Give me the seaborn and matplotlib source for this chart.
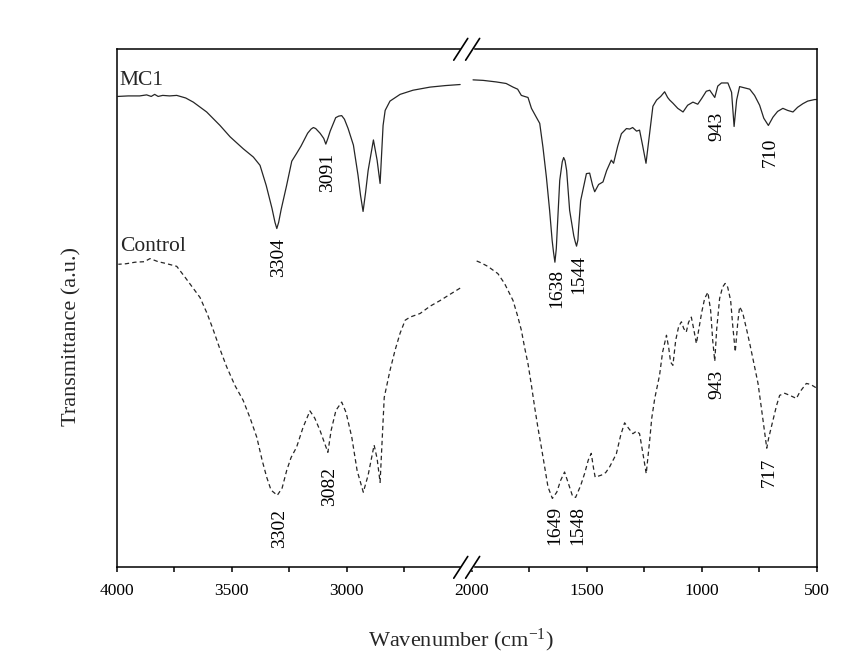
import numpy as np
import pandas as pd
import matplotlib
matplotlib.use("Agg")
import matplotlib.pyplot as plt
import seaborn as sns

# ---- FTIR spectra (wavenumber in cm-1, transmittance in a.u.) ----
# MC1, 4000-2500 cm-1 window
mc1_hi_wn = [3995, 3950, 3900, 3870, 3850, 3835, 3820, 3800, 3770, 3739,
             3700, 3667, 3609, 3551, 3507, 3450, 3406, 3377, 3350, 3325,
             3312, 3304, 3296, 3285, 3262, 3239, 3218, 3199, 3170, 3155,
             3145, 3135, 3116, 3100, 3091, 3082, 3072, 3048, 3035, 3022,
             3010, 2994, 2971, 2951, 2940, 2929, 2918, 2907, 2884, 2868,
             2855, 2842, 2833, 2812, 2768, 2712, 2638, 2570, 2507]
mc1_hi_t = [90.9, 91.0, 91.0, 91.2, 90.9, 91.3, 90.9, 91.1, 91.0, 91.1,
            90.6, 89.8, 87.9, 85.3, 83.1, 80.8, 79.2, 77.6, 73.7, 69.3,
            66.6, 65.4, 66.6, 69.1, 73.6, 78.4, 79.9, 81.3, 83.8, 84.6,
            84.9, 84.7, 83.8, 82.8, 81.7, 82.8, 84.2, 86.8, 87.1, 87.2,
            86.5, 84.7, 81.5, 75.7, 71.8, 68.7, 72.4, 76.6, 82.5, 78.6,
            74.1, 85.3, 88.2, 90.0, 91.3, 92.1, 92.7, 93.0, 93.2]

# MC1, 2000-500 cm-1 window
mc1_lo_wn = [1994, 1950, 1893, 1850, 1820, 1800, 1784, 1770, 1755, 1740,
             1719, 1704, 1690, 1675, 1661, 1650, 1644, 1638, 1632, 1628,
             1617, 1606, 1600, 1594, 1587, 1574, 1556, 1550, 1544, 1538,
             1535, 1526, 1501, 1487, 1474, 1465, 1448, 1429, 1413, 1393,
             1383, 1365, 1349, 1327, 1313, 1300, 1283, 1270, 1257, 1242,
             1230, 1212, 1196, 1178, 1161, 1148, 1139, 1125, 1104, 1081,
             1061, 1038, 1017, 1000, 980, 965, 943, 930, 914, 886,
             870, 859, 848, 835, 791, 770, 748, 730, 710, 690,
             670, 647, 626, 603, 583, 560, 539, 509, 501]
mc1_lo_t = [94.1, 94.0, 93.7, 93.4, 92.7, 92.3, 91.1, 90.9, 90.7, 88.6,
            86.9, 85.7, 81.1, 75.3, 68.9, 63.1, 60.8, 58.9, 61.5, 65.1,
            74.7, 78.3, 79.1, 78.5, 76.6, 68.9, 64.0, 62.9, 62.0, 63.2,
            65.5, 70.8, 76.0, 76.1, 73.7, 72.5, 73.9, 74.4, 76.6, 78.6,
            78.0, 81.3, 83.7, 84.7, 84.6, 84.9, 84.2, 84.4, 81.5, 78.0,
            82.4, 89.0, 90.2, 90.9, 91.8, 90.7, 90.2, 89.6, 88.6, 87.9,
            89.2, 89.8, 89.4, 90.5, 91.9, 92.1, 90.7, 92.9, 93.5, 93.5,
            91.7, 85.1, 90.2, 92.8, 92.3, 91.1, 89.2, 86.7, 85.3, 86.9,
            88.0, 88.6, 88.2, 87.9, 88.8, 89.5, 90.0, 90.3, 90.3]

# Control, 4000-2500 cm-1 window
ctrl_hi_wn = [3993, 3960, 3920, 3880, 3855, 3820, 3790, 3739, 3703, 3668,
              3638, 3607, 3580, 3551, 3522, 3486, 3450, 3420, 3391, 3368,
              3348, 3329, 3302, 3281, 3261, 3242, 3218, 3190, 3160, 3139,
              3116, 3082, 3068, 3047, 3022, 3003, 2978, 2955, 2928, 2907,
              2881, 2868, 2855, 2844, 2837, 2812, 2790, 2768, 2746, 2725,
              2681, 2638, 2594, 2551, 2507]
ctrl_hi_t = [58.5, 58.6, 58.9, 59.0, 59.6, 59.0, 58.7, 58.1, 56.0, 53.9,
             52.1, 49.0, 45.8, 42.1, 38.7, 35.1, 32.2, 28.8, 25.1, 20.7,
             17.4, 14.9, 13.9, 15.3, 18.7, 21.2, 23.2, 27.0, 30.2, 28.8,
             26.4, 22.2, 26.4, 30.3, 31.9, 29.9, 25.1, 18.7, 14.5, 17.8,
             23.6, 21.0, 16.4, 26.4, 32.8, 38.0, 41.9, 45.2, 47.7, 48.3,
             49.0, 50.4, 51.5, 52.7, 53.9]

# Control, 2000-500 cm-1 window
ctrl_lo_wn = [1987, 1960, 1930, 1886, 1857, 1820, 1800, 1784, 1770, 1755,
              1740, 1726, 1712, 1697, 1683, 1668, 1649, 1630, 1613, 1596,
              1578, 1561, 1548, 1526, 1509, 1493, 1480, 1470, 1463, 1436,
              1417, 1400, 1371, 1352, 1335, 1317, 1299, 1283, 1270, 1254,
              1241, 1226, 1217, 1204, 1183, 1170, 1153, 1143, 1135, 1125,
              1113, 1100, 1088, 1078, 1067, 1057, 1045, 1035, 1023, 1013,
              1000, 987, 973, 961, 952, 943, 935, 922, 909, 898,
              887, 874, 865, 854, 843, 835, 822, 804, 791, 774,
              755, 739, 717, 709, 690, 674, 661, 639, 617, 588,
              574, 545, 526, 504]
ctrl_lo_t = [59.3, 58.8, 58.1, 56.7, 54.8, 51.5, 48.5, 45.8, 42.5, 39.3,
             35.1, 30.9, 27.0, 23.2, 19.5, 15.5, 13.3, 14.5, 16.8, 18.4,
             16.0, 13.7, 13.5, 15.8, 18.1, 20.7, 22.0, 19.1, 17.4, 17.8,
             18.3, 19.4, 21.9, 25.5, 27.9, 26.8, 25.8, 26.3, 25.8, 21.6,
             18.1, 24.5, 28.8, 32.6, 37.1, 41.5, 44.8, 42.3, 39.6, 39.0,
             43.8, 46.5, 47.4, 46.1, 45.4, 47.3, 48.3, 46.1, 43.2, 45.8,
             49.2, 51.9, 53.1, 49.6, 43.8, 39.8, 45.8, 51.9, 54.1, 54.8,
             54.1, 51.5, 46.7, 41.6, 47.3, 50.3, 49.2, 45.8, 43.2, 39.6,
             35.5, 30.3, 23.0, 24.9, 28.4, 31.3, 33.2, 33.6, 33.2, 32.6,
             33.8, 35.5, 35.3, 34.7]

# Assigned band positions (cm-1)
mc1_peaks = [3304, 3091, 1638, 1544, 943, 710]
ctrl_peaks = [3302, 3082, 1649, 1548, 943, 717]

tick_values = [4000, 3750, 3500, 3250, 3000, 2750, 2000, 1750, 1500, 1250, 1000, 750, 500]
tick_labels = ["4000", "", "3500", "", "3000", "", "2000", "", "1500", "", "1000", "", "500"]

# ---- long-form table ----
frames = []
for name, win, wn, t in [("MC1", "hi", mc1_hi_wn, mc1_hi_t),
                         ("MC1", "lo", mc1_lo_wn, mc1_lo_t),
                         ("Control", "hi", ctrl_hi_wn, ctrl_hi_t),
                         ("Control", "lo", ctrl_lo_wn, ctrl_lo_t)]:
    frames.append(pd.DataFrame({"wn": wn, "t": t, "sample": name, "window": win}))
spectra = pd.concat(frames, ignore_index=True)

# ---- style ----
sns.set_theme(style="white")
plt.rcParams["font.family"] = ["Liberation Serif", "DejaVu Serif"]
plt.rcParams["mathtext.fontset"] = "custom"
plt.rcParams["mathtext.rm"] = "Liberation Serif"
plt.rcParams["mathtext.it"] = "Liberation Serif:italic"
plt.rcParams["mathtext.bf"] = "Liberation Serif:bold"

# broken wavenumber axis: 2500-2000 cm-1 squeezed into a short gap
GAP = 43.0


def fwd(w):
    w = np.asarray(w, dtype=float)
    return np.where(w <= 2000, w - 500,
                    np.where(w >= 2500, w - 2500 + 1500 + GAP,
                             1500 + (w - 2000) * GAP / 500.0))


def inv(p):
    p = np.asarray(p, dtype=float)
    return np.where(p <= 1500, p + 500,
                    np.where(p >= 1500 + GAP, p - 1500 - GAP + 2500,
                             2000 + (p - 1500) * 500.0 / GAP))


fig = plt.figure(figsize=(8.47, 6.59), dpi=100)
ax = fig.add_axes([0.1378, 0.1391, 0.8264, 0.7861])
ax.set_xscale("function", functions=(fwd, inv))

line_color = "#262626"
sns.lineplot(data=spectra, x="wn", y="t", hue="sample", style="sample",
             units="window", estimator=None, sort=True,
             palette={"MC1": line_color, "Control": line_color},
             dashes={"MC1": "", "Control": (3.5, 2.5)},
             linewidth=0.9, legend=False, ax=ax)
for ln in ax.lines:
    ln.set_solid_joinstyle("round")
    ln.set_dash_joinstyle("round")

ax.set_xlim(4000, 500)
ax.set_ylim(0, 100)
ax.set_xticks(tick_values)
ax.set_xticklabels(tick_labels)
ax.set_yticks([])
ax.minorticks_off()
ax.tick_params(axis="x", direction="out", length=3.8, width=1.1,
               pad=7.5, labelsize=12.5, colors="black", bottom=True)
for s in ax.spines.values():
    s.set_linewidth(1.1)
    s.set_color("black")

ax.set_xlabel(r"Wavenumber (cm$^{\mathrm{-1}}$)", fontsize=16)
ax.xaxis.set_label_coords(0.492, -0.115)
ax.set_ylabel("Transmittance (a.u.)", fontsize=16)
ax.yaxis.set_label_coords(-0.050, 0.4465)

# sample names
ax.text(3986, 93.1, "MC1", ha="left", va="baseline", fontsize=15.5)
ax.text(3986, 61.0, "Control", ha="left", va="baseline", fontsize=15.5)

# band labels under each minimum
mc1_off = [6.5, 6.5, 4.5, 6.5, 10.5, 8.5]
ctrl_off = [9.5, 10.5, 5.0, 6.0, 6.5, 7.0]
for peaks, wn_all, t_all, offs in [
        (mc1_peaks, mc1_hi_wn + mc1_lo_wn, mc1_hi_t + mc1_lo_t, mc1_off),
        (ctrl_peaks, ctrl_hi_wn + ctrl_lo_wn, ctrl_hi_t + ctrl_lo_t, ctrl_off)]:
    lookup = dict(zip(wn_all, t_all))
    for pk, off in zip(peaks, offs):
        ax.annotate(str(pk), xy=(pk, lookup[pk]), xytext=(0, -off),
                    textcoords="offset points", rotation=90,
                    rotation_mode="anchor", ha="right", va="center_baseline",
                    fontsize=14, color="black")

# axis-break marks on the top and bottom frame lines
xb = float((fwd(4000) - fwd(2250)) / (fwd(4000) - fwd(500)))
dx, dy, sep = 0.0100, 0.021, 0.0085
for yb in (0.0, 1.0):
    ax.add_patch(plt.Rectangle((xb - sep, yb - 0.004), 2 * sep, 0.008,
                               transform=ax.transAxes, color="white",
                               clip_on=False, zorder=4))
    for off in (-sep, sep):
        ax.plot([xb + off - dx, xb + off + dx], [yb - dy, yb + dy],
                transform=ax.transAxes, color="black", lw=1.2,
                clip_on=False, zorder=5)

fig.savefig("out.png", dpi=100, facecolor="white")
